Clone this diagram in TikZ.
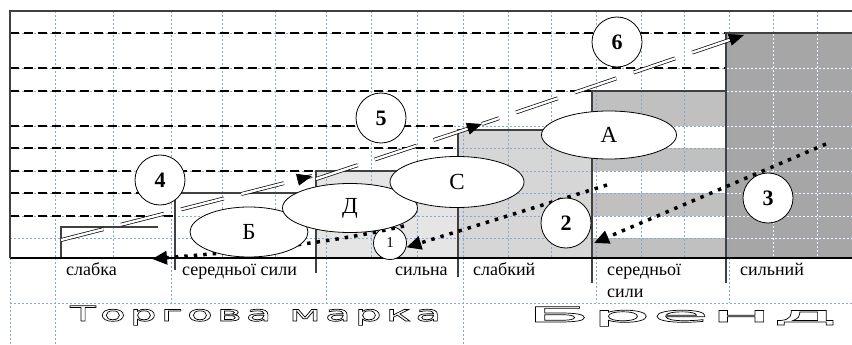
\documentclass[tikz,border=0pt]{standalone}
\usepackage{fontspec}
\setmainfont{Liberation Serif}
\newfontfamily\widefont[FakeStretch=2.0,LetterSpace=20]{DejaVu Sans}
\newfontfamily\widerfont[FakeStretch=4.5,LetterSpace=2]{DejaVu Sans}
\usetikzlibrary{arrows.meta,shapes.geometric,calc}
\definecolor{gridblue}{RGB}{140,165,205}
\definecolor{lightfill}{RGB}{229,229,229}
\definecolor{midfill}{RGB}{214,214,214}
\definecolor{bandfill}{RGB}{192,192,192}
\definecolor{darkfill}{RGB}{166,166,166}
\definecolor{stepgray}{RGB}{64,64,64}
\newcommand{\hollow}[1]{\special{pdf:literal direct 1 Tr 0.7 w}#1\special{pdf:literal direct 0 Tr}}
\begin{document}
\begin{tikzpicture}[x=1pt,y=-1pt]
        \tikzstyle{gridline}=[draw=gridblue,line width=0.7pt,dash pattern=on 2pt off 2pt]
        \tikzstyle{gridwhite}=[draw=white,line width=0.8pt,dash pattern=on 2pt off 2pt]
        \tikzstyle{level}=[draw=black,line width=1.1pt,dash pattern=on 9pt off 5pt]
        \tikzstyle{riser}=[draw=stepgray,line width=1.5pt]
        \tikzstyle{push}=[draw=black,double=white,double distance=2.4pt,line width=0.7pt,dash pattern=on 44pt off 18pt]
        \tikzstyle{pushtip}=[-{Triangle[length=15pt,width=12pt]},line width=0.7pt]
        \tikzstyle{drop}=[line width=3.5pt,dash pattern=on 3.5pt off 6pt,-{Triangle[length=15pt,width=13pt]}]
        \tikzstyle{brand}=[ellipse,draw=black,fill=white,line width=0.8pt,inner sep=0pt,font=\fontsize{23}{23}\selectfont]
        \tikzstyle{num}=[circle,draw=black,fill=white,line width=0.8pt,minimum size=50pt,inner sep=0pt,font=\fontsize{22}{22}\selectfont\bfseries]
        \tikzstyle{lbl}=[anchor=base west,inner sep=0pt,font=\fontsize{18}{21}\selectfont]
        \useasboundingbox (0,0) rectangle (852,345);
        \fill[white] (0,0) rectangle (852,345);
       \begin{scope}
         % shaded steps
         \fill[lightfill] (316,171) rectangle (458,258);
         \fill[midfill] (458,130) rectangle (592,258);
         \foreach \t/\b in {91/126,148/171,193/216,238/258}
           \fill[bandfill] (592,\t) rectangle (726,\b);
         \fill[darkfill] (726,33) rectangle (852,258);
         % grid
         \foreach \x in {55,113,171,222,275,326,371,417,463,508,551,596,641,684,729,773,817}
           \draw[gridline] (\x,11) -- (\x,258);
         \foreach \y in {33,68,91,126,148,171,193,216,238}
           \draw[gridline] (10,\y) -- (852,\y);
         \foreach \y in {68,91,126,148,171,193,216,238}
           \draw[gridwhite] (727,\y) -- (852,\y);
         \foreach \x in {773,817}
           \draw[gridwhite] (\x,34) -- (\x,258);
         \foreach \x in {10,55,463}
           \draw[gridline] (\x,258) -- (\x,345);
         \foreach \x in {171,326,596,729}
           \draw[gridline] (\x,258) -- (\x,303);
         \draw[gridline] (10,303) -- (852,303);
         % levels
         \foreach \y/\e in {33/726,68/726,91/592,126/458,148/458,171/316,193/175,216/175}
           \draw[level] (10,\y) -- (\e,\y);
         % steps
         \draw[riser] (61,258) -- (61,227) -- (158,227);
         \draw[riser] (175,270) -- (175,193) -- (316,193);
         \draw[riser] (316,273) -- (316,171) -- (458,171);
         \draw[riser] (458,277) -- (458,130) -- (592,130);
         \draw[riser] (592,283) -- (592,91) -- (726,91);
         \draw[riser] (726,283) -- (726,33) -- (852,33);
         \draw[black,line width=1.5pt] (10,258) -- (852,258);
         \draw[stepgray,line width=1.5pt] (10,258) -- (10,11) -- (852,11);
        \end{scope}
         % arrows
         \coordinate (p0) at (61,240);
         \coordinate (p1) at (312,176);
         \coordinate (p2) at (316,179);
         \coordinate (p3) at (482,124);
         \coordinate (p4) at (744,35);
         \path[push] (p0) -- (p1);
         \path[push] (p2) -- (p3);
         \path[push,dash phase=26pt] (p3) -- (p4);
         \draw[pushtip] ($(p1)!14pt!(p0)$) -- (p1);
         \draw[pushtip] ($(p3)!14pt!(p2)$) -- (p3);
         \draw[pushtip] ($(p4)!14pt!(p3)$) -- (p4);
         \node[circle,draw=black,fill=white,line width=0.8pt,minimum size=33pt,inner sep=0pt,font=\fontsize{15}{15}\selectfont] (n1) at (390,243) {1};
         \coordinate (t1) at (404,226);
         \coordinate (h1) at (152,259);
         \coordinate (t2) at (607,185);
         \coordinate (t3) at (826,144);
         \coordinate (h3) at (594,243);
         \draw[drop] (t1) .. controls (330,243) and (260,250) .. (h1);
         \draw[drop] (t2) -- (n1.-15);
         \draw[drop] (t3) -- (h3);
         % brands
         \node[brand,minimum width=118pt,minimum height=50pt] (b) at (249,232) {Б};
         \node[brand,minimum width=135pt,minimum height=49pt] (d) at (350,208) {Д};
         \node[brand,minimum width=134pt,minimum height=51pt] (c) at (457,182) {С};
         \node[brand,minimum width=135pt,minimum height=48pt] (a) at (609,135) {А};
         \node[num] (n4) at (160,180) {4};
         \node[num] (n5) at (381,118) {5};
         \node[num] (n6) at (617,42) {6};
         \node[num] (n3) at (768,198) {3};
         \node[num] (n2) at (566,223) {2};
         % axis labels
         \node[lbl] (weakf) at (66,275) {слабка};
         \node[lbl] (midf) at (182,275) {середньої сили};
         \node[lbl] (strongf) at (395,275) {сильна};
         \node[lbl] (weakm) at (473,275) {слабкий};
         \node[lbl] (midm) at (607,275) {середньої};
         \node[lbl] (midm2) at (607,297) {сили};
         \node[lbl] (strongm) at (740,275) {сильний};
         \node[anchor=base west,inner sep=0pt,font=\widefont\fontsize{21}{21}\selectfont] (tm) at (70,321) {\hollow{Торгова марка}};
         \node[anchor=base west,inner sep=0pt,font=\widerfont\fontsize{21}{21}\selectfont] (br) at (526,322) {\hollow{Бренд}};
      \end{tikzpicture}
\end{document}
